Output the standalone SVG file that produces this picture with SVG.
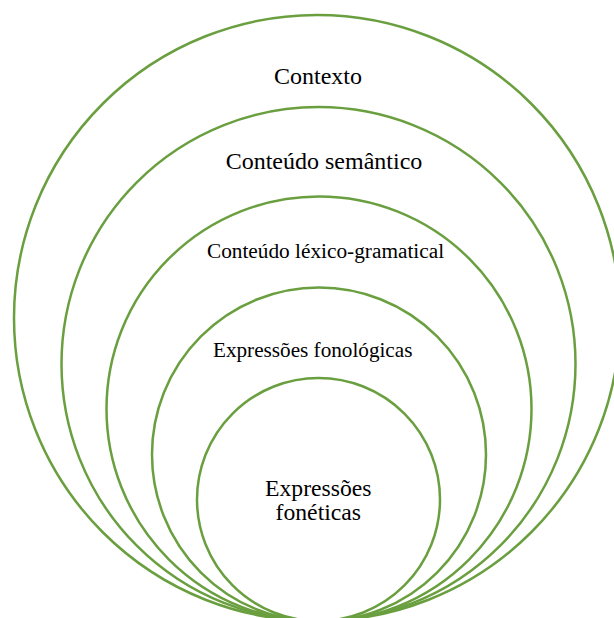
<svg xmlns="http://www.w3.org/2000/svg" width="614" height="618" viewBox="0 0 614 618">
<style>
.ring{fill:none;stroke:#6A9F3F;stroke-width:2.5}
.lbl{font-family:"Liberation Serif","Times New Roman",serif;fill:#000;text-anchor:middle}
</style>
<rect width="614" height="618" fill="#fff"/>
<g id="contexto">
<circle class="ring" cx="317" cy="318" r="303"/>
<text class="lbl" x="318" y="84" font-size="24">Contexto</text>
</g>
<g id="semantico">
<circle class="ring" cx="318.5" cy="364" r="257"/>
<text class="lbl" x="324" y="169" font-size="24">Conteúdo semântico</text>
</g>
<g id="lexico">
<circle class="ring" cx="319" cy="409" r="212.5"/>
<text class="lbl" x="325.5" y="258" font-size="21.3">Conteúdo léxico-gramatical</text>
</g>
<g id="fonologicas">
<circle class="ring" cx="319" cy="454.5" r="167"/>
<text class="lbl" x="312.7" y="357" font-size="21.2">Expressões fonológicas</text>
</g>
<g id="foneticas">
<circle class="ring" cx="318.5" cy="499.5" r="121.5"/>
<text class="lbl" x="318.3" y="496" font-size="23.7">Expressões</text>
<text class="lbl" x="318.3" y="519.5" font-size="23.7">fonéticas</text>
</g>
<g id="connectors"/>
</svg>
